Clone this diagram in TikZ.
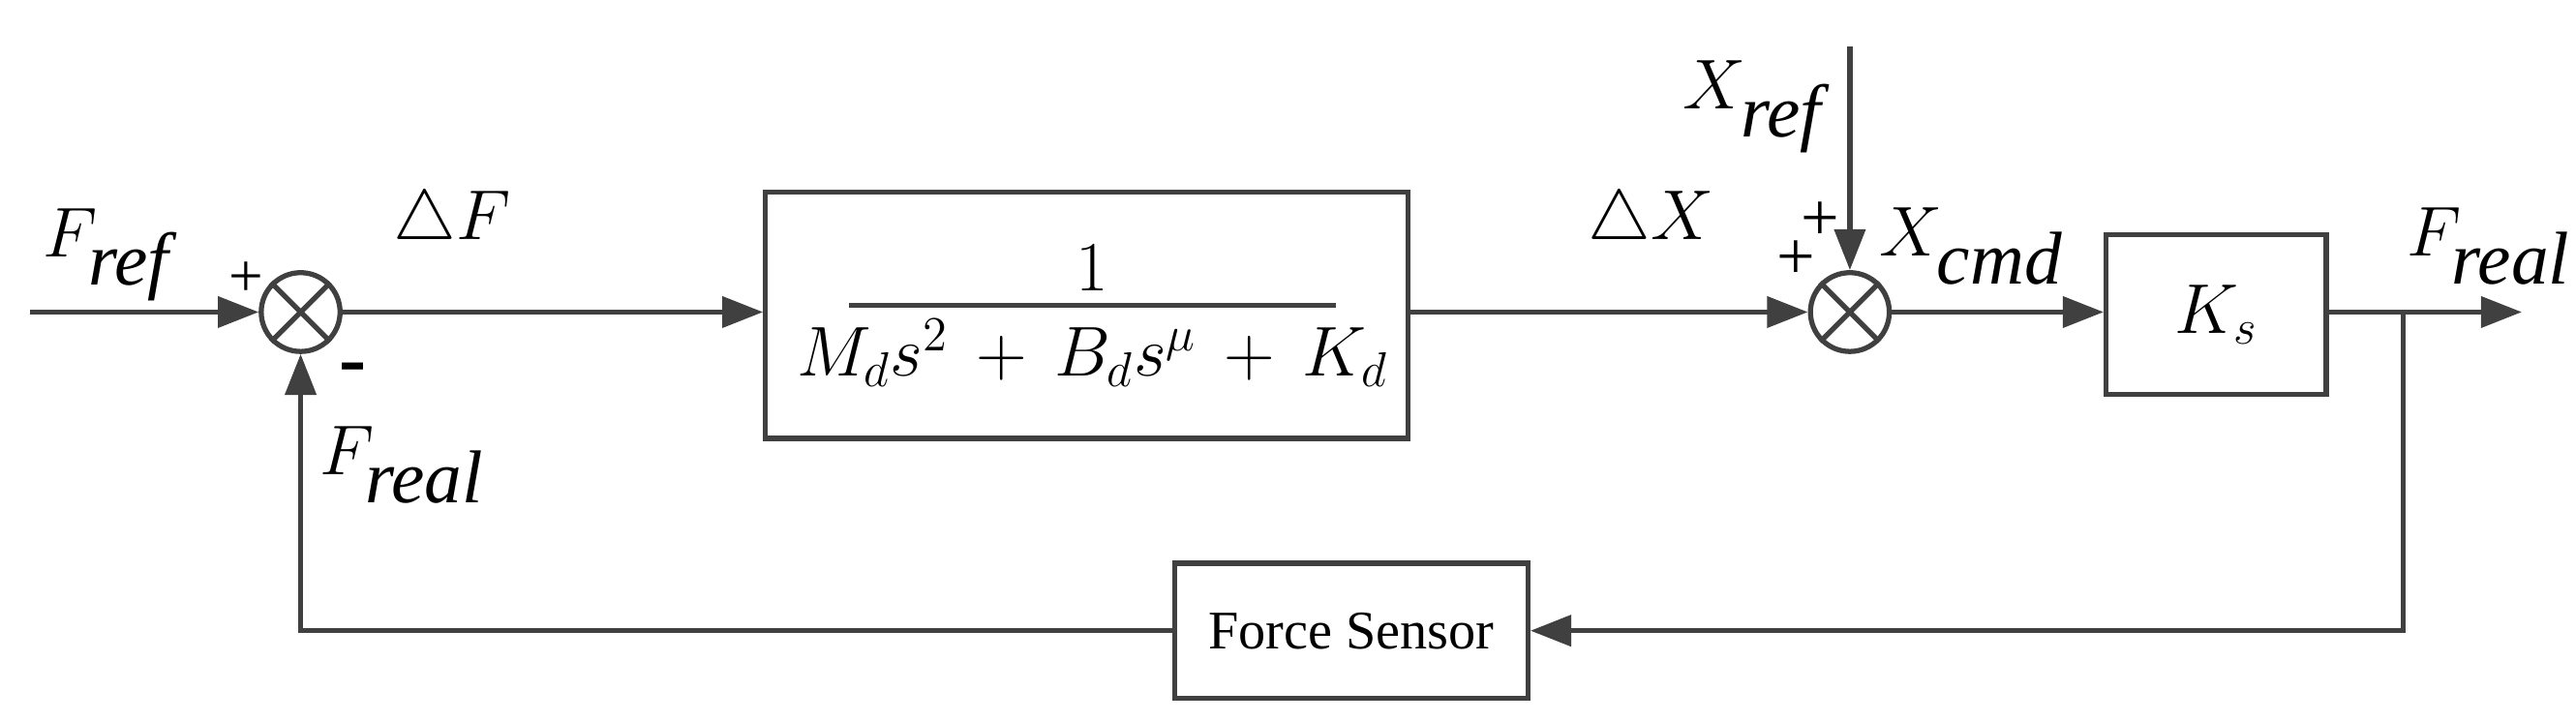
\documentclass[tikz,border=0pt]{standalone}
\usepackage[no-math]{fontspec}
\setmainfont{Liberation Serif}
\usetikzlibrary{arrows.meta}
\definecolor{ln}{HTML}{404040}
\newcommand{\mysub}[1]{_{\textit{#1}}}
\begin{document}
\begin{tikzpicture}[x=0.01697cm,y=-0.01697cm,
  line/.style={draw=ln,line width=1.5pt},
  arr/.style={line,-{Triangle[length=12pt,width=9pt]}},
  sum/.style={circle,draw=ln,line width=1.5pt,minimum size=48*0.01697cm,inner sep=0pt},
  blk/.style={draw=ln,line width=1.5pt,inner sep=0pt},
  lab/.style={font=\fontsize{22}{26}\selectfont,inner sep=0pt}]
\useasboundingbox (0,0) rectangle (1568,438.4);
\node[sum] (s1) at (183,190) {};
\draw[line] (s1.north west) -- (s1.south east) (s1.north east) -- (s1.south west);
\node[sum] (s2) at (1126,190) {};
\draw[line] (s2.north west) -- (s2.south east) (s2.north east) -- (s2.south west);
\node[blk,minimum width=391*0.01697cm,minimum height=150*0.01697cm] (b1) at (661.5,192) {};
\node[lab] (num) at (665,163) {$1$};
\draw[line] (517,186) -- (813,186);
\node[lab,font=\fontsize{20}{24}\selectfont] (den) at (665,215) {$M_d s^2\,+\,B_d s^{\mu}\,+\,K_d$};
\node[blk,minimum width=134*0.01697cm,minimum height=97*0.01697cm] (ks) at (1349,191.5) {};
\node[lab] at (ks) {$K_s$};
\node[blk,minimum width=215*0.01697cm,minimum height=82*0.01697cm,font=\fontsize{16}{19}\selectfont] (fs) at (822.5,384) {Force Sensor};
\coordinate (in) at (18,190);
\coordinate (xr) at (1126,28);
\coordinate (out) at (1535,190);
\coordinate (br) at (1463,190);
\coordinate (brd) at (1463,384);
\coordinate (fl) at (183,384);
\draw[arr] (in) -- (s1);
\draw[arr] (s1) -- (b1.west |- s1);
\draw[arr] (b1.east |- s2) -- (s2);
\draw[arr] (xr) -- (s2);
\draw[arr] (s2) -- (ks.west |- s2);
\draw[arr] (ks.east |- out) -- (out);
\draw[arr] (br) -- (brd) -- (fs.east);
\draw[arr] (fs.west) -- (fl) -- (s1);
\node[lab] at (65,155) {$F\mysub{ref}$};
\node[lab,font=\fontsize{18}{20}\selectfont] at (150,170) {+};
\node[lab,font=\bfseries\fontsize{24}{26}\selectfont] at (215,228) {-};
\node[lab] at (245,283) {$F\mysub{real}$};
\node[lab] at (275,135) {$\triangle F$};
\node[lab] at (1005,135) {$\triangle X$};
\node[lab] at (1067,65) {$X\mysub{ref}$};
\node[lab,font=\fontsize{20}{22}\selectfont] at (1108,135) {+};
\node[lab,font=\fontsize{20}{22}\selectfont] at (1093,158) {+};
\node[lab] at (1200,150) {$X\mysub{cmd}$};
\node[lab] at (1515,150) {$F\mysub{real}$};
\end{tikzpicture}
\end{document}
